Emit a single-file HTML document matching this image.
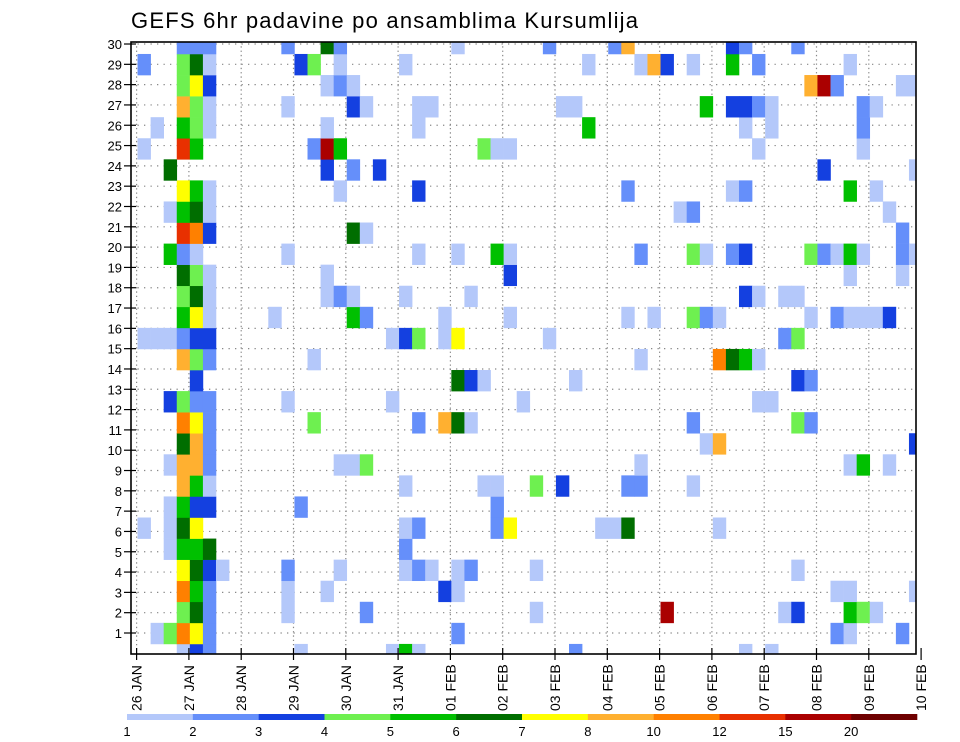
<!DOCTYPE html>
<html><head><meta charset="utf-8"><style>
html,body{margin:0;padding:0;background:#fff;}
svg{display:block;font-family:"Liberation Sans",sans-serif;}
</style></head><body>
<svg id="chart" width="960" height="742" viewBox="0 0 960 742" xmlns="http://www.w3.org/2000/svg">
<defs><clipPath id="plotclip"><rect x="131" y="42" width="785" height="612"/></clipPath></defs>
<text x="131" y="28" font-size="22" fill="#000" textLength="507">GEFS 6hr padavine po ansamblima Kursumlija</text>
<g id="grid"></g>
<g id="cells" clip-path="url(#plotclip)"></g>
<rect x="131" y="42" width="785" height="612" fill="none" stroke="#000" stroke-width="1.6"/>
<g id="yaxis"></g><g id="xaxis"></g><g id="cbar"></g>
</svg>
<script>
// ---- data ----
const dayLabels = ["26 JAN","27 JAN","28 JAN","29 JAN","30 JAN","31 JAN","01 FEB","02 FEB","03 FEB","04 FEB","05 FEB","06 FEB","07 FEB","08 FEB","09 FEB","10 FEB"];
const memberLabels = [1,2,3,4,5,6,7,8,9,10,11,12,13,14,15,16,17,18,19,20,21,22,23,24,25,26,27,28,29,30];
const binLabels = ["1","2","3","4","5","6","7","8","10","12","15","20"];
const binColors = ["#b4c8fa","#658ffa","#1440e0","#6ef050","#00c000","#006e00","#ffff00","#ffb030","#ff8000","#e83000","#aa0000","#6e0000"];
// member -> "step:level" (step = 6h index, level = bin index 1..12)
const memberCells = {
30:"4:2,5:2,6:2,12:2,15:6,16:2,25:1,32:2,37:2,38:8,46:3,47:2,51:2",
29:"1:2,4:4,5:6,6:1,13:3,14:4,16:1,21:1,35:1,39:1,40:8,41:3,43:1,46:5,48:2,55:1",
28:"4:4,5:7,6:3,15:1,16:2,17:1,52:8,53:11,54:2,59:1,60:1",
27:"4:8,5:4,6:1,12:1,17:3,18:1,22:1,23:1,33:1,34:1,44:5,46:3,47:3,48:2,49:1,56:2,57:1",
26:"2:1,4:5,5:4,6:1,15:1,22:1,35:5,47:1,49:1,56:2",
25:"1:1,4:10,5:5,14:2,15:11,16:5,27:4,28:1,29:1,48:1,56:1",
24:"3:6,15:3,17:2,19:3,53:3,60:1",
23:"4:7,5:5,6:1,16:1,22:3,38:2,46:1,47:2,55:5,57:1",
22:"3:1,4:5,5:6,6:1,42:1,43:2,58:1",
21:"4:10,5:9,6:3,17:6,18:1,59:2",
20:"3:5,4:2,5:1,12:1,22:1,25:1,28:5,29:1,39:2,43:4,44:1,46:2,47:3,52:4,53:2,54:1,55:5,56:1,59:2,60:1",
19:"4:6,5:4,6:1,15:1,29:3,55:1,59:1",
18:"4:4,5:6,6:1,15:1,16:2,17:1,21:1,26:1,47:3,48:1,50:1,51:1",
17:"4:5,5:7,6:1,11:1,17:5,18:2,24:1,29:1,38:1,40:1,43:4,44:2,45:1,52:1,54:2,55:1,56:1,57:1,58:3",
16:"1:1,2:1,3:1,4:2,5:3,6:3,20:1,21:3,22:4,24:1,25:7,32:1,50:2,51:4",
15:"4:8,5:4,6:2,14:1,39:1,45:9,46:6,47:5,48:1",
14:"5:3,25:6,26:3,27:1,34:1,51:3,52:2",
13:"3:3,4:4,5:2,6:2,12:1,20:1,30:1,48:1,49:1",
12:"4:9,5:7,6:2,14:4,22:2,24:8,25:6,26:1,43:2,51:4,52:2",
11:"4:6,5:8,6:2,44:1,45:8,60:3",
10:"3:1,4:8,5:8,6:2,16:1,17:1,18:4,39:1,55:1,56:5,58:1",
9:"4:8,5:5,6:1,21:1,27:1,28:1,31:4,33:3,38:2,39:2,43:1",
8:"3:1,4:5,5:3,6:3,13:2,28:2",
7:"1:1,3:1,4:6,5:7,21:1,22:2,28:2,29:7,36:1,37:1,38:6,45:1",
6:"3:1,4:5,5:5,6:6,21:2",
5:"4:7,5:6,6:3,7:1,12:2,16:1,21:1,22:2,23:1,25:1,26:2,31:1,51:1",
4:"4:9,5:5,6:2,12:1,15:1,24:3,25:1,54:1,55:1,60:1",
3:"4:4,5:6,6:2,12:1,18:2,31:1,41:11,50:1,51:3,55:5,56:4,57:1",
2:"2:1,3:4,4:9,5:7,6:2,25:2,54:2,55:1,59:2",
1:"4:1,5:3,6:2,13:1,20:1,21:5,22:1,34:2,47:1,49:1"
};
// ---- scales ----
const NS="http://www.w3.org/2000/svg";
const dayW=52.3, day0=136.6;
function xDay(d){return day0+d*dayW;}
function xStep(s){return xDay((s*6-2.57)/24);}
const stepW=dayW/4;
const cellH=21.07;
function yCell(m){return 64.5+(29-m)*cellH;}
function yTick(m){return 633-(m-1)*20.31;}
function mk(tag,attrs,parent){const e=document.createElementNS(NS,tag);for(const k in attrs)e.setAttribute(k,attrs[k]);parent.appendChild(e);return e;}
const grid=document.getElementById('grid'),cellsG=document.getElementById('cells');
const yax=document.getElementById('yaxis'),xax=document.getElementById('xaxis'),cb=document.getElementById('cbar');
// grid
memberLabels.forEach(m=>{
  const y=yTick(m);
  const l=mk('line',{x1:131,x2:916,y1:y,y2:y,stroke:'#888','stroke-width':1.2,'stroke-dasharray':'1.3,5.2'},grid);
  
  
  const t=mk('line',{x1:124,x2:136,y1:y,y2:y,stroke:'#000','stroke-width':1.2},yax);
  
  
  const tx=mk('text',{x:122,y:y+5,'font-size':13,'text-anchor':'end',fill:'#000'},yax);
  tx.textContent=String(m);
  
  
});
dayLabels.forEach((lab,d)=>{
  const x=xDay(d);
  if(x<916){
    const l=mk('line',{x1:x,x2:x,y1:42,y2:654,stroke:'#888','stroke-width':1.2,'stroke-dasharray':'1.3,3'},grid);
    
    
  }
  const t=mk('line',{x1:x,x2:x,y1:648,y2:660,stroke:'#000','stroke-width':1.2},xax);
  
  
  const tx=mk('text',{x:0,y:0,'font-size':14,fill:'#000',transform:'translate('+(x+5)+',711) rotate(-90)'},xax);
  tx.textContent=lab;
  
  
});
// cells
Object.keys(memberCells).forEach(mk2=>{
  const m=+mk2;
  memberCells[m].split(',').forEach(p=>{
    const [s,lv]=p.split(':').map(Number);
    const r=mk('rect',{x:xStep(s)-stepW/2,y:yCell(m)-cellH/2,width:stepW+0.3,height:cellH+0.3,fill:binColors[lv-1]},cellsG);
    
    
  });
});
// colorbar
const cbX0=127,cbX1=917,segW=(cbX1-cbX0)/binColors.length;
binColors.forEach((c,i)=>{
  const r=mk('rect',{x:cbX0+i*segW,y:714,width:segW+0.3,height:6,fill:c},cb);
  
  
});
binLabels.forEach((lab,i)=>{
  const t=mk('text',{x:cbX0+i*segW,y:736,'font-size':13,'text-anchor':'middle',fill:'#000'},cb);
  t.textContent=lab;
  
  
});
</script>
</body></html>
